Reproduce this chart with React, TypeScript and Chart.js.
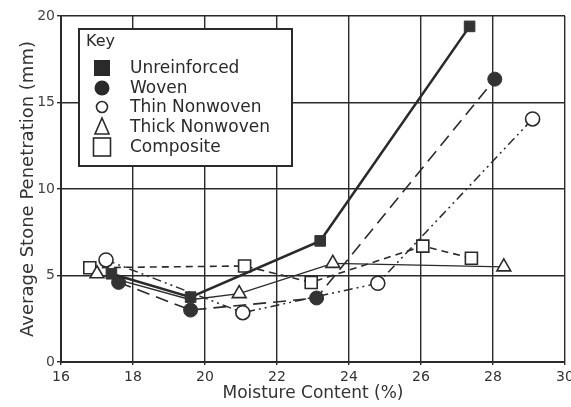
import React, { useEffect, useRef } from "react";
import { Chart, registerables } from "chart.js";

Chart.register(...registerables);

const seriesNames = ["Unreinforced", "Woven", "Thin Nonwoven", "Thick Nonwoven", "Composite"];

const unreinforcedX = [17.4, 19.6, 23.2, 27.35];
const unreinforcedY = [5.1, 3.75, 7.0, 19.4];

const wovenX = [17.6, 19.6, 23.1, 28.05];
const wovenY = [4.6, 3.0, 3.7, 16.35];

const thinX = [17.25, 21.05, 24.8, 29.1];
const thinY = [5.9, 2.85, 4.55, 14.05];

const thickX = [17.0, 19.6, 20.95, 23.55, 28.3];
const thickY = [5.1, 3.6, 3.95, 5.7, 5.5];
const thickVisible = [true, false, true, true, true];

const compositeX = [16.8, 21.1, 22.95, 26.05, 27.4];
const compositeY = [5.45, 5.55, 4.6, 6.7, 6.0];

const xTicks = [16, 18, 20, 22, 24, 26, 28, 30];
const yTicks = [0, 5, 10, 15, 20];

const INK = "#2a2a2a";
const FONT = "'DejaVu Sans', sans-serif";

function pts(xs: number[], ys: number[]) {
  return xs.map((x, i) => ({ x, y: ys[i] }));
}

const legendPlugin = {
  id: "keyBox",
  afterDraw(chart: any) {
    const ctx = chart.ctx as CanvasRenderingContext2D;
    ctx.save();
    const bx = 79, by = 29, bw = 213, bh = 137;
    ctx.fillStyle = "#ffffff";
    ctx.fillRect(bx, by, bw, bh);
    ctx.strokeStyle = INK;
    ctx.lineWidth = 2;
    ctx.strokeRect(bx, by, bw, bh);
    ctx.fillStyle = INK;
    ctx.font = `16px ${FONT}`;
    ctx.textBaseline = "middle";
    ctx.textAlign = "left";
    ctx.fillText("Key", 86, 42);
    const rows = [68, 88, 107, 127, 147];
    const mx = 102;
    seriesNames.forEach((name, i) => {
      const y = rows[i];
      ctx.lineWidth = 1.6;
      ctx.strokeStyle = INK;
      ctx.fillStyle = INK;
      if (i === 0) {
        ctx.fillRect(mx - 8, y - 8, 16, 16);
      } else if (i === 1) {
        ctx.beginPath();
        ctx.arc(mx, y, 7.5, 0, Math.PI * 2);
        ctx.fill();
      } else if (i === 2) {
        ctx.beginPath();
        ctx.arc(mx, y, 5.5, 0, Math.PI * 2);
        ctx.fillStyle = "#fff";
        ctx.fill();
        ctx.stroke();
      } else if (i === 3) {
        ctx.beginPath();
        ctx.moveTo(mx, y - 9);
        ctx.lineTo(mx + 7, y + 7);
        ctx.lineTo(mx - 7, y + 7);
        ctx.closePath();
        ctx.fillStyle = "#fff";
        ctx.fill();
        ctx.stroke();
      } else {
        ctx.fillStyle = "#fff";
        ctx.fillRect(mx - 8.5, y - 9, 17, 18);
        ctx.strokeRect(mx - 8.5, y - 9, 17, 18);
      }
      ctx.fillStyle = INK;
      ctx.font = `17px ${FONT}`;
      ctx.fillText(name, 130, y + 1);
    });
    ctx.restore();
  },
};

export default function App() {
  const ref = useRef<HTMLCanvasElement | null>(null);
  useEffect(() => {
    if (!ref.current) return;
    const chart = new Chart(ref.current, {
      type: "scatter",
      data: {
        datasets: [
          {
            label: seriesNames[0],
            data: pts(unreinforcedX, unreinforcedY),
            showLine: true,
            borderColor: INK,
            borderWidth: 2.6,
            pointStyle: "rect",
            pointRadius: 7.5,
            pointBackgroundColor: "#333",
            pointBorderColor: "#333",
            pointBorderWidth: 1,
          },
          {
            label: seriesNames[1],
            data: pts(wovenX, wovenY),
            showLine: true,
            borderColor: INK,
            borderWidth: 1.6,
            borderDash: [13, 7],
            pointStyle: "circle",
            pointRadius: 7,
            pointBackgroundColor: "#333",
            pointBorderColor: "#333",
            pointBorderWidth: 1,
          },
          {
            label: seriesNames[2],
            data: pts(thinX, thinY),
            showLine: true,
            borderColor: INK,
            borderWidth: 1.5,
            borderDash: [9, 4, 2, 4, 2, 4],
            pointStyle: "circle",
            pointRadius: 7,
            pointBackgroundColor: "#fff",
            pointBorderColor: INK,
            pointBorderWidth: 1.6,
          },
          {
            label: seriesNames[3],
            data: pts(thickX, thickY),
            showLine: true,
            borderColor: INK,
            borderWidth: 1.3,
            pointStyle: "triangle",
            pointRadius: thickVisible.map((v) => (v ? 8 : 0)),
            pointBackgroundColor: "#fff",
            pointBorderColor: INK,
            pointBorderWidth: 1.6,
          },
          {
            label: seriesNames[4],
            data: pts(compositeX, compositeY),
            showLine: true,
            borderColor: INK,
            borderWidth: 1.6,
            borderDash: [7, 5],
            pointStyle: "rect",
            pointRadius: 8.5,
            pointBackgroundColor: "#fff",
            pointBorderColor: INK,
            pointBorderWidth: 1.6,
          },
        ],
      },
      options: {
        animation: false,
        responsive: false,
        layout: { autoPadding: false, padding: { top: 16, right: 6, left: 0, bottom: 0 } },
        plugins: { legend: { display: false }, tooltip: { enabled: false } },
        scales: {
          x: {
            type: "linear",
            min: 16,
            max: 30,
            afterBuildTicks: (s: any) => {
              s.ticks = xTicks.map((v) => ({ value: v }));
            },
            afterFit: (s: any) => {
              s.height = 45;
              s.paddingLeft = 0;
              s.paddingRight = 0;
            },
            grid: { color: INK, lineWidth: 1.4, tickLength: 3, drawTicks: true },
            border: { color: INK, width: 2 },
            ticks: {
              color: "#333",
              font: { family: FONT, size: 14 },
              padding: 4,
              maxRotation: 0,
              autoSkip: false,
            },
            title: {
              display: true,
              text: "Moisture Content (%)",
              color: "#333",
              font: { family: FONT, size: 17 },
              padding: { top: 0, bottom: 3 },
            },
          },
          y: {
            type: "linear",
            min: 0,
            max: 20,
            afterBuildTicks: (s: any) => {
              s.ticks = yTicks.map((v) => ({ value: v }));
            },
            afterFit: (s: any) => {
              s.width = 61;
              s.paddingTop = 0;
              s.paddingBottom = 0;
            },
            grid: { color: INK, lineWidth: 1.4, tickLength: 4 },
            border: { color: INK, width: 2 },
            ticks: {
              color: "#444",
              font: { family: FONT, size: 14 },
              padding: 2,
            },
            title: {
              display: true,
              text: "Average Stone Penetration (mm)",
              color: "#333",
              font: { family: FONT, size: 18 },
              padding: { top: 18, bottom: 4 },
            },
          },
        },
      },
      plugins: [legendPlugin],
    });
    return () => chart.destroy();
  }, []);
  return (
    <div style={{ position: "fixed", left: 0, top: 0, width: 571, height: 407, background: "#fff", overflow: "hidden" }}>
      <canvas ref={ref} width={571} height={407} style={{ width: 571, height: 407 }} />
    </div>
  );
}
